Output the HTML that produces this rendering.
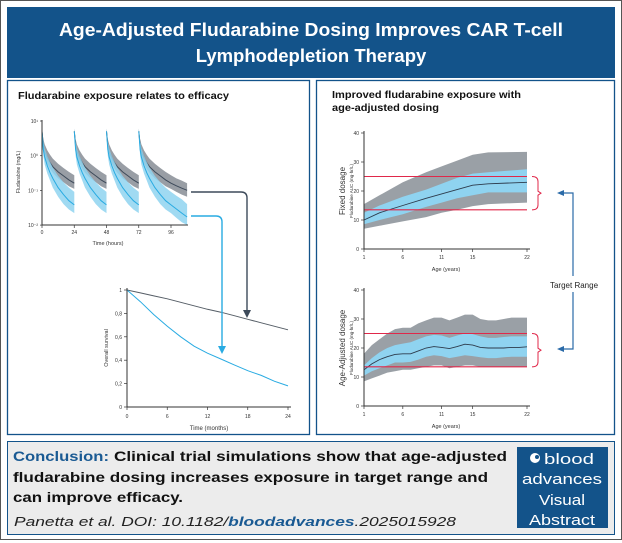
<!DOCTYPE html>
<html><head><meta charset="utf-8"><style>
html,body{margin:0;padding:0;background:#fff;}
svg{display:block;font-family:"Liberation Sans",Arial,sans-serif;}
</style></head><body>
<svg id="root" width="622" height="543" viewBox="0 0 622 543">
<rect x="0.5" y="0.5" width="621" height="539" fill="#fff" stroke="#555" stroke-width="1"/>
<rect x="7" y="7" width="608" height="71" fill="#13538a"/>
<text x="59" y="36" fill="#fff" font-size="18.5" font-weight="bold" textLength="504" lengthAdjust="spacingAndGlyphs">Age-Adjusted Fludarabine Dosing Improves CAR T-cell</text>
<text x="311" y="62" text-anchor="middle" fill="#fff" font-size="18.5" font-weight="bold">Lymphodepletion Therapy</text>
<rect x="7.5" y="80.5" width="302" height="354" fill="#fff" stroke="#13538a" stroke-width="1.3"/>
<rect x="316.5" y="80.5" width="298" height="354" fill="#fff" stroke="#13538a" stroke-width="1.3"/>
<text x="18" y="99" font-size="10.5" font-weight="bold" fill="#111" textLength="211" lengthAdjust="spacingAndGlyphs">Fludarabine exposure relates to efficacy</text>
<text x="332" y="98" font-size="10.5" font-weight="bold" fill="#111" textLength="189" lengthAdjust="spacingAndGlyphs">Improved fludarabine exposure with</text>
<text x="332" y="111" font-size="10.5" font-weight="bold" fill="#111" textLength="107" lengthAdjust="spacingAndGlyphs">age-adjusted dosing</text>
<g id="pk"></g>
<g id="surv"></g>
<g id="fixed"></g>
<g id="adj"></g>
<path d="M191 192 H241 Q247 192 247 198 V312" fill="none" stroke="#3d4a5a" stroke-width="1.4"/>
<path d="M243 310 L247 318 L251 310 Z" fill="#3d4a5a"/>
<path d="M191 216 H216 Q222 216 222 222 V348" fill="none" stroke="#29abe2" stroke-width="1.4"/>
<path d="M218 346 L222 354 L226 346 Z" fill="#29abe2"/>
<path d="M561 193 H573 V276 M573 292 V349 H561" fill="none" stroke="#2a6aa8" stroke-width="1.2"/>
<path d="M557 193 L564 190 L564 196 Z M557 349 L564 346 L564 352 Z" fill="#2a6aa8"/>
<text x="574" y="288" text-anchor="middle" font-size="8" fill="#222">Target Range</text>
<rect x="7.5" y="441.5" width="607" height="93" fill="#ececec" stroke="#13538a" stroke-width="1"/>
<text x="13" y="461" font-size="14" font-weight="bold" fill="#1a5a93" textLength="96" lengthAdjust="spacingAndGlyphs">Conclusion:</text>
<text x="114" y="461" font-size="14" font-weight="bold" fill="#111" textLength="393" lengthAdjust="spacingAndGlyphs">Clinical trial simulations show that age-adjusted</text>
<text x="13" y="482" font-size="14" font-weight="bold" fill="#111" textLength="475" lengthAdjust="spacingAndGlyphs">fludarabine dosing increases exposure in target range and</text>
<text x="13" y="502" font-size="14" font-weight="bold" fill="#111" textLength="170" lengthAdjust="spacingAndGlyphs">can improve efficacy.</text>
<text x="14" y="526" font-size="13" font-style="italic" fill="#222" textLength="442" lengthAdjust="spacingAndGlyphs">Panetta et al. DOI: 10.1182/<tspan fill="#1a5a93" font-weight="bold">bloodadvances</tspan>.2025015928</text>
<rect x="517" y="447" width="91" height="81" fill="#13538a"/>
<circle cx="535" cy="458" r="5" fill="#fff"/>
<circle cx="537" cy="457" r="2" fill="#13538a"/>
<text x="569" y="464" text-anchor="middle" fill="#fff" font-size="15" textLength="50" lengthAdjust="spacingAndGlyphs">blood</text>
<text x="562" y="484" text-anchor="middle" fill="#fff" font-size="15" textLength="80" lengthAdjust="spacingAndGlyphs">advances</text>
<text x="562" y="505" text-anchor="middle" fill="#fff" font-size="15" textLength="46" lengthAdjust="spacingAndGlyphs">Visual</text>
<text x="562" y="525" text-anchor="middle" fill="#fff" font-size="15" textLength="66" lengthAdjust="spacingAndGlyphs">Abstract</text>
</svg>
<script>
const pkOffsets = [0,1,2,4,6,8,12,16,20,24,28,32,36];
const pkDoses = [0,24,48,72];
const grayMed = [5,2,1.3,0.85,0.62,0.48,0.34,0.26,0.2,0.16,0.135,0.115,0.1];
const grayHi  = [6,3,2.1,1.4,1.05,0.82,0.58,0.44,0.34,0.27,0.22,0.19,0.16];
const grayLo  = [4,1.4,0.9,0.58,0.42,0.32,0.22,0.17,0.13,0.11,0.09,0.075,0.065];
const blueMed = [5,1.5,0.9,0.5,0.32,0.22,0.12,0.075,0.05,0.038,0.029,0.022,0.017];
const blueHi  = [6,2.5,1.6,0.95,0.65,0.45,0.26,0.17,0.12,0.09,0.07,0.055,0.04];
const blueLo  = [4,1.0,0.55,0.3,0.19,0.12,0.065,0.04,0.028,0.022,0.016,0.012,0.01];
const pkXTicks = [0,24,48,72,96];
const pkYTicks = ["10¹","10⁰","10⁻¹","10⁻²"];
const survMonths = [0,2,4,6,8,10,12,14,16,18,20,22,24];
const survGray = [1,0.975,0.95,0.925,0.895,0.865,0.835,0.81,0.78,0.75,0.72,0.69,0.66];
const survBlue = [1,0.9,0.79,0.69,0.6,0.52,0.46,0.41,0.36,0.31,0.27,0.22,0.18];
const survXTicks = [0,6,12,18,24];
const survYTicks = [0,0.2,0.4,0.6,0.8,1];
const fixAges = [1,3,6,9,11,13,15,17,22];
const fixMed  = [10,12.5,15,17.5,19,20.5,22,22.5,23];
const fixGLo  = [7,8,9.5,11,12.5,13.5,14.8,15.5,16];
const fixGHi  = [15.5,18.5,23,26.5,28.5,30.5,32.5,33.3,33.5];
const fixBLo  = [8.5,10,12,14.5,16,17.5,18.5,19.5,19.5];
const fixBHi  = [12.5,15,18,20.5,22.5,24.5,26,26.5,27.5];
const adjAges = [1,2,3,4,5,6,7,8,9,10,11,12,13,14,15,16,17,18,19,20,21,22];
const adjMed  = [12.5,14.5,16,17,17.8,18,18,19,20,20.5,20.2,19.8,20.5,21.3,21,20.2,20,20,20,20.2,20.2,20.4];
const adjGHi  = [18,21,23,25,26.5,27,27,28.5,29.5,30.5,30.5,29.5,30.5,31.5,31.5,30,29.5,29.5,30,30.5,30.5,30.5];
const adjGLo  = [8.5,9.5,10.5,11.5,12,12.5,12.5,13,13.5,14,14,13,13.5,14,14,13.5,13.5,13.5,13.5,13.5,13.5,13.5];
const adjBHi  = [14,16.5,18.5,20,21,21.5,22,23,24,24.5,24.3,23.5,24.3,25,24.8,24,23.5,23.5,23.8,24,24,24];
const adjBLo  = [10.5,12,13,14,15,15,15.2,16,17,17.5,17.2,16.5,17,17.5,17.2,16.8,16.5,16.5,16.8,17,17,17];
const ageTicks = [1,6,11,15,22];
const aucTicks = [0,10,20,30,40];
const targetRange = [13.5,25];

const NS="http://www.w3.org/2000/svg";
function mk(parent,tag,attrs){const e=document.createElementNS(NS,tag);for(const k in attrs)e.setAttribute(k,attrs[k]);parent.appendChild(e);return e;}
function pathOf(xs,ys){return xs.map((x,i)=>(i?'L':'M')+x.toFixed(1)+' '+ys[i].toFixed(1)).join(' ');}
function bandOf(xs,lo,hi){return pathOf(xs.concat(xs.slice().reverse()),hi.concat(lo.slice().reverse()))+'Z';}

(function(){
 const g=document.getElementById('pk');
 const x=t=>42+t*(171-42)/96, y=v=>225-(Math.log10(v)+2)*34.7;
 const series=[[grayLo,grayHi,grayMed,'#8e949b','#3d4a5a'],[blueLo,blueHi,blueMed,'#8fd3f0','#29abe2']];
 series.forEach(([lo,hi,med,fc,lc],si)=>{
  pkDoses.forEach((d,di)=>{
   const n = di<pkDoses.length-1 ? 10 : pkOffsets.length;
   const off=pkOffsets.slice(0,n);
   const xs=off.map(o=>x(d+o));
   const b=mk(g,'path',{d:bandOf(xs,lo.slice(0,n).map(y),hi.slice(0,n).map(y)),fill:fc,opacity:si?0.85:0.9});
   
   
   const l=mk(g,'path',{d:pathOf(xs,med.slice(0,n).map(y)),fill:'none',stroke:lc,'stroke-width':1});
   
   
  });
 });
 mk(g,'path',{d:'M42 120 V225 H188',fill:'none',stroke:'#333','stroke-width':1});
 pkXTicks.forEach(t=>{mk(g,'line',{x1:x(t),x2:x(t),y1:225,y2:228,stroke:'#333','stroke-width':0.7});
  const tx=mk(g,'text',{x:x(t),y:234,'text-anchor':'middle','font-size':5,fill:'#333'});tx.textContent=t;
  
  });
 pkYTicks.forEach((s,i)=>{const yy=121+i*34.7;mk(g,'line',{x1:40,x2:42,y1:yy,y2:yy,stroke:'#333','stroke-width':0.7});
  const tx=mk(g,'text',{x:38,y:yy+2,'text-anchor':'end','font-size':5,fill:'#333'});tx.textContent=s;
  
  });
 const xt=mk(g,'text',{x:108,y:245,'text-anchor':'middle','font-size':5.5,fill:'#333'});xt.textContent='Time (hours)';
 
 
 const yt=mk(g,'text',{x:0,y:0,'text-anchor':'middle','font-size':5,fill:'#333',transform:'translate(20 172) rotate(-90)'});yt.textContent='Fludarabine (mg/L)';
 
 
})();

(function(){
 const g=document.getElementById('surv');
 const x=m=>127+m*(288-127)/24, y=v=>407-v*117;
 [[survGray,'#555d66'],[survBlue,'#29abe2']].forEach(([s,c])=>{
  const l=mk(g,'path',{d:pathOf(survMonths.map(x),s.map(y)),fill:'none',stroke:c,'stroke-width':1});
  
  
 });
 mk(g,'path',{d:'M127 288 V407 H291',fill:'none',stroke:'#333','stroke-width':1});
 survXTicks.forEach(t=>{mk(g,'line',{x1:x(t),x2:x(t),y1:407,y2:410,stroke:'#333','stroke-width':0.7});
  const tx=mk(g,'text',{x:x(t),y:418,'text-anchor':'middle','font-size':5,fill:'#333'});tx.textContent=t;
  
  });
 survYTicks.forEach(v=>{mk(g,'line',{x1:124,x2:127,y1:y(v),y2:y(v),stroke:'#333','stroke-width':0.7});
  const tx=mk(g,'text',{x:122,y:y(v)+2,'text-anchor':'end','font-size':5,fill:'#333'});tx.textContent=String(v).replace('.',',');
  
  });
 const xt=mk(g,'text',{x:209,y:430,'text-anchor':'middle','font-size':6,fill:'#333'});xt.textContent='Time (months)';
 
 
 const yt=mk(g,'text',{x:0,y:0,'text-anchor':'middle','font-size':5.5,fill:'#333',transform:'translate(108 348) rotate(-90)'});yt.textContent='Overall survival';
 
 
})();

function aucChart(id,top,ages,med,gLo,gHi,bLo,bHi,label){
 const g=document.getElementById(id);
 const bot=top+116;
 const x=a=>364+(a-1)*(527-364)/21, y=v=>bot-v*2.9;
 const xs=ages.map(x);
 let e=mk(g,'path',{d:bandOf(xs,gLo.map(y),gHi.map(y)),fill:'#9aa0a6'});
 
 
 e=mk(g,'path',{d:bandOf(xs,bLo.map(y),bHi.map(y)),fill:'#8fd3f0'});
 
 
 e=mk(g,'path',{d:pathOf(xs,med.map(y)),fill:'none',stroke:'#2d3b4c','stroke-width':0.9});
 
 
 targetRange.forEach(v=>{const l=mk(g,'line',{x1:364,x2:527,y1:y(v),y2:y(v),stroke:'#e0284a','stroke-width':1.1});
  
  });
 const y1=y(targetRange[1]),y2=y(targetRange[0]),ym=(y1+y2)/2;
 e=mk(g,'path',{d:`M532 ${y1} Q538 ${y1} 538 ${y1+5} V${ym-2} L541 ${ym} L538 ${ym+2} V${y2-5} Q538 ${y2} 532 ${y2}`,fill:'none',stroke:'#e0284a','stroke-width':1});
 
 
 mk(g,'path',{d:`M364 ${top-2} V${bot} H530`,fill:'none',stroke:'#333','stroke-width':1});
 ageTicks.forEach(t=>{mk(g,'line',{x1:x(t),x2:x(t),y1:bot,y2:bot+3,stroke:'#333','stroke-width':0.7});
  const tx=mk(g,'text',{x:x(t),y:bot+10,'text-anchor':'middle','font-size':5,fill:'#333'});tx.textContent=t;
  
  });
 aucTicks.forEach(v=>{mk(g,'line',{x1:361,x2:364,y1:y(v),y2:y(v),stroke:'#333','stroke-width':0.7});
  const tx=mk(g,'text',{x:359,y:y(v)+2,'text-anchor':'end','font-size':5,fill:'#333'});tx.textContent=v;
  
  });
 const xt=mk(g,'text',{x:446,y:bot+22,'text-anchor':'middle','font-size':5.5,fill:'#333'});xt.textContent='Age (years)';
 
 
 const yt=mk(g,'text',{x:0,y:0,'text-anchor':'middle','font-size':8,fill:'#333',transform:`translate(345 ${top+58}) rotate(-90)`});yt.textContent=label;
 
 
 const yt2=mk(g,'text',{x:0,y:0,'text-anchor':'middle','font-size':4.5,fill:'#333',transform:`translate(353 ${top+58}) rotate(-90)`});yt2.textContent='Fludarabine AUC (mg·hr/L)';
 
 
}
aucChart('fixed',133,fixAges,fixMed,fixGLo,fixGHi,fixBLo,fixBHi,'Fixed dosage');
aucChart('adj',290,adjAges,adjMed,adjGLo,adjGHi,adjBLo,adjBHi,'Age-Adjusted dosage');
</script>
</body></html>
